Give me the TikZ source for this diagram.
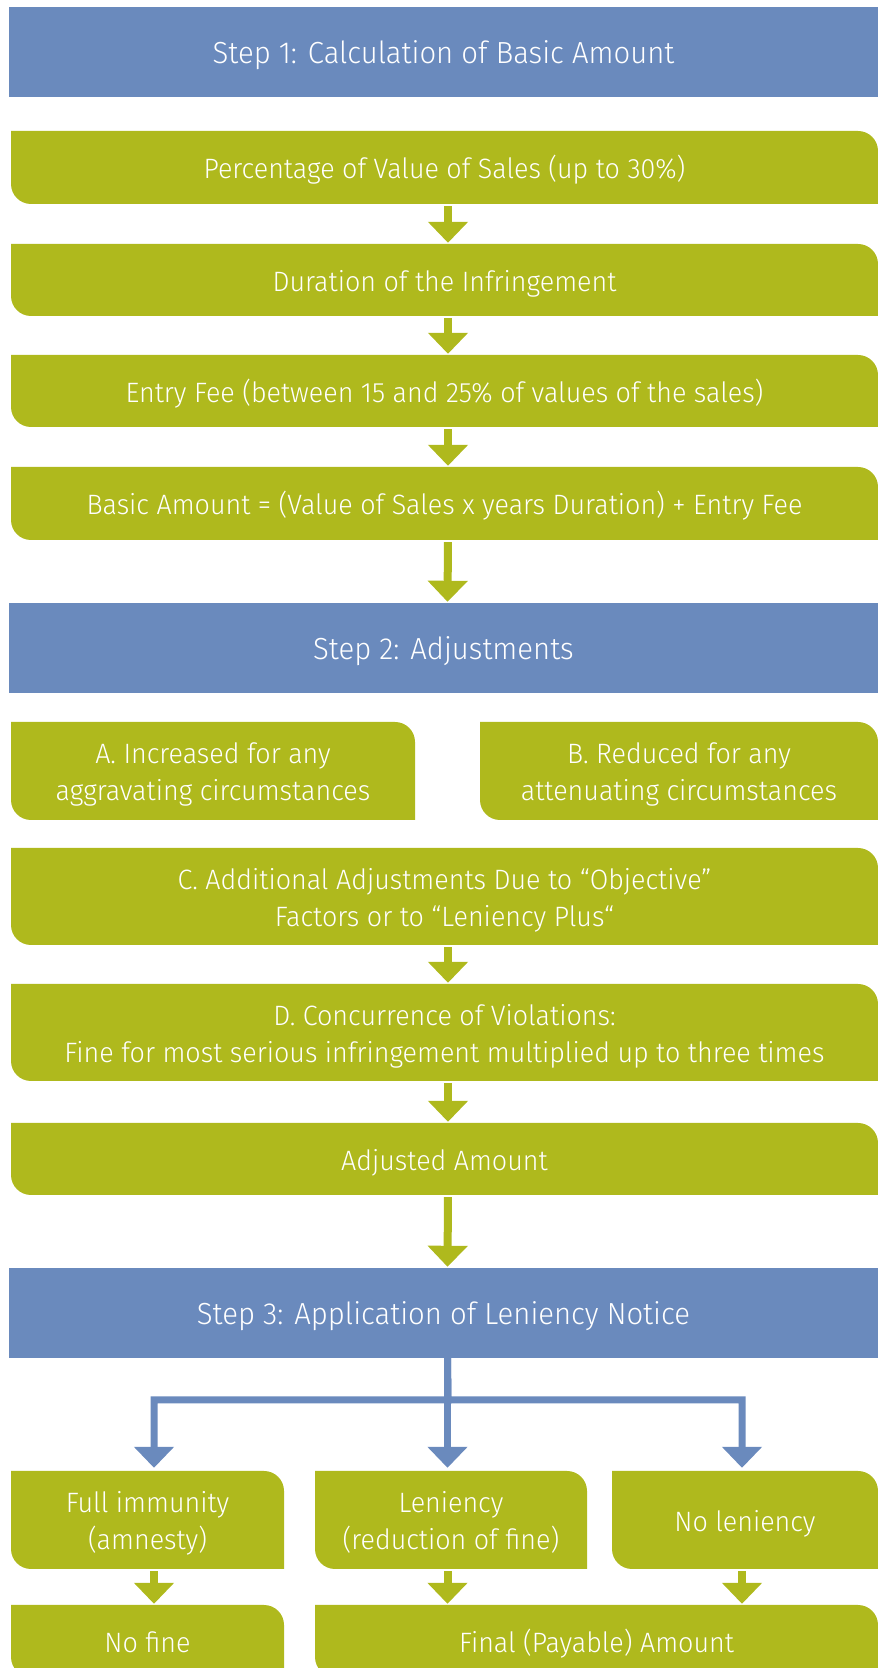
\documentclass[tikz,border=0pt]{standalone}
\usepackage{fontspec}
\setmainfont{Fira Sans}[UprightFont={* Light}, FakeStretch=0.96]
\usetikzlibrary{arrows.meta}
\definecolor{gcol}{RGB}{175,185,29}
\definecolor{bcol}{RGB}{106,138,189}
\tikzset{
  gtxt/.style={rectangle, inner sep=0pt, align=center, text=white, font=\fontsize{28}{37}\selectfont},
  btxt/.style={rectangle, inner sep=0pt, fill=bcol, align=center, text=white, font=\fontsize{30.5}{37}\selectfont},
  garr/.style={draw=gcol, line width=8pt, -{Triangle[width=39pt,length=21pt]}, shorten <=2pt, shorten >=1pt},
  barr/.style={draw=bcol, line width=7pt, line join=miter, -{Triangle[width=39pt,length=21pt]}, shorten >=3pt}
}
\newcommand\lowtext[1]{\raisebox{-4pt}[\height][\depth]{\begin{tabular}{@{}c@{}}#1\end{tabular}}}
\newcommand\gb[6]{%
  \fill[gcol] (#2,{1668-#3}) -- ({#4-20},{1668-#3}) arc[start angle=90,end angle=0,radius=20pt] -- (#4,{1668-#5}) -- ({#2+20},{1668-#5}) arc[start angle=270,end angle=180,radius=20pt] -- cycle;
  \node[gtxt, minimum width={(#4-#2)*1pt}, minimum height={(#5-#3)*1pt}] (#1) at ({(#2+#4)/2},{1668-(#3+#5)/2}) {\lowtext{#6}};}
\newcommand\bb[5]{%
  \node[btxt, minimum width={(878-9)*1pt}, minimum height={(#4-#3)*1pt}] (#1) at ({(9+878)/2},{1668-(#3+#4)/2}) {\lowtext{#5}};}
\begin{document}
\begin{tikzpicture}[x=1pt,y=1pt]
\useasboundingbox (0,0) rectangle (878,1668);
\clip (0,0) rectangle (878,1668);
\bb{s1}{9}{7}{97}{Step 1: Calculation of Basic Amount}
\gb{g1}{11}{131}{878}{204}{Percentage of Value of Sales (up to 30\%)}
\gb{g2}{11}{244}{878}{316}{Duration of the Infringement}
\gb{g3}{11}{355}{878}{427}{Entry Fee (between 15 and 25\% of values of the sales)}
\gb{g4}{11}{467}{878}{540}{Basic Amount = (Value of Sales x years Duration) + Entry Fee}
\bb{s2}{9}{603}{693}{Step 2: Adjustments}
\gb{ga}{11}{722}{415}{820}{A. Increased for any\\aggravating circumstances}
\gb{gb}{480}{722}{878}{820}{B. Reduced for any\\attenuating circumstances}
\gb{gc}{11}{848}{878}{945}{C. Additional Adjustments Due to “Objective”\\Factors or to “Leniency Plus“}
\gb{gd}{11}{984}{878}{1081}{D. Concurrence of Violations:\\Fine for most serious infringement multiplied up to three times}
\gb{ge}{11}{1123}{878}{1195}{Adjusted Amount}
\bb{s3}{9}{1268}{1358}{Step 3: Application of Leniency Notice}
\gb{fi}{11}{1471}{284}{1569}{Full immunity\\(amnesty)}
\gb{len}{315}{1471}{587}{1569}{Leniency\\(reduction of fine)}
\gb{nl}{612}{1471}{878}{1569}{No leniency}
\gb{nf}{11}{1605}{284}{1677}{No fine}
\gb{fin}{315}{1605}{878}{1677}{Final (Payable) Amount}
% green arrows
\draw[garr] ([xshift=3.5pt]g1.south) -- ([xshift=3.5pt]g2.north);
\draw[garr] ([xshift=3.5pt]g2.south) -- ([xshift=3.5pt]g3.north);
\draw[garr] ([xshift=3.5pt]g3.south) -- ([xshift=3.5pt]g4.north);
\draw[garr] ([xshift=3.5pt]g4.south) -- ([xshift=4pt]s2.north);
\draw[garr] ([xshift=3.5pt]gc.south) -- ([xshift=3.5pt]gd.north);
\draw[garr] ([xshift=3.5pt]gd.south) -- ([xshift=3.5pt]ge.north);
\draw[garr] ([xshift=3.5pt]ge.south) -- ([xshift=4pt]s3.north);
% branch
\coordinate (br) at (448,{1668-1400});
\draw[barr] ([xshift=4pt]s3.south) -- (br) -| ([xshift=6.5pt]fi.north);
\draw[barr] ([xshift=4pt]s3.south) -- ([xshift=-3.5pt]len.north);
\draw[barr] ([xshift=4pt]s3.south) -- (br) -| ([xshift=-3pt]nl.north);
% bottom arrows
\draw[garr] ([xshift=6.5pt]fi.south) -- ([xshift=6.5pt]nf.north);
\draw[garr] ([xshift=-3.5pt]len.south) -- ([xshift=-3.5pt]len.south |- fin.north);
\draw[garr] ([xshift=-3pt]nl.south) -- ([xshift=-3pt]nl.south |- fin.north);
\end{tikzpicture}
\end{document}
